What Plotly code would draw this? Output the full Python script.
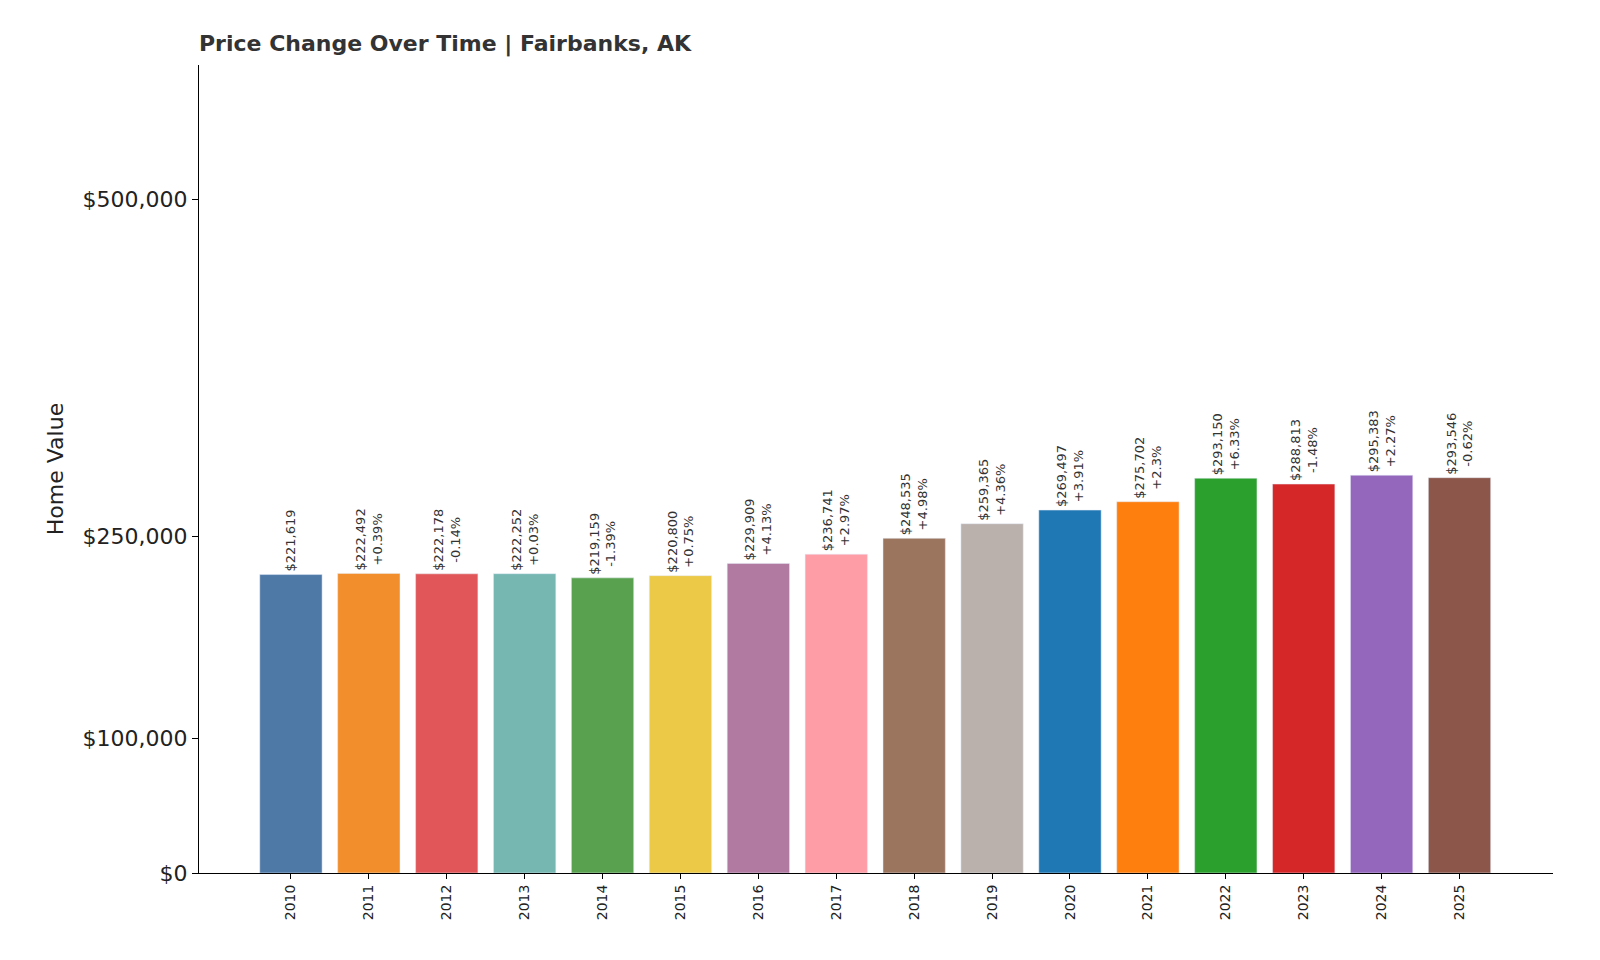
import plotly.graph_objects as go

years = [str(y) for y in range(2010, 2026)]
values = [221619, 222492, 222178, 222252, 219159, 220800, 229909, 236741,
          248535, 259365, 269497, 275702, 293150, 288813, 295383, 293546]
changes = ["", "+0.39%", "-0.14%", "+0.03%", "-1.39%", "+0.75%", "+4.13%", "+2.97%",
           "+4.98%", "+4.36%", "+3.91%", "+2.3%", "+6.33%", "-1.48%", "+2.27%", "-0.62%"]
colors = ["#4e79a7", "#f28e2b", "#e15759", "#76b7b2", "#59a14f", "#edc948", "#b07aa1",
          "#ff9da7", "#9c755f", "#bab0ac", "#1f77b4", "#ff7f0e", "#2ca02c", "#d62728",
          "#9467bd", "#8c564b"]
tick_vals = [0, 100000, 250000, 500000]
tick_text = ["$0", "$100,000", "$250,000", "$500,000"]

labels = [f"${v:,}" + (f"<br>{c}" if c else "") for v, c in zip(values, changes)]

fig = go.Figure(go.Bar(
    x=years, y=values, marker_color=colors, width=0.8,
    text=labels, textposition="outside", textangle=-90,
    textfont=dict(size=13, color="#333"), cliponaxis=False,
))

fig.update_layout(
    width=1600, height=960,
    margin=dict(l=191, r=55, t=57, b=95),
    plot_bgcolor="white", paper_bgcolor="white",
    font=dict(family="DejaVu Sans", color="#222"),
    title=dict(text="<b>Price Change Over Time | Fairbanks, AK</b>",
               x=191/1600, xanchor="left", y=1-35/960, yanchor="middle",
               font=dict(size=22, color="#333")),
    showlegend=False,
    uniformtext=dict(minsize=13, mode="show"),
)
fig.update_xaxes(range=[-1.18, 16.2], tickangle=-90, tickfont=dict(size=14),
                 showline=True, linecolor="black", ticks="outside", ticklen=5,
                 tickcolor="black", showgrid=False)
fig.update_yaxes(range=[0, 600000], tickvals=tick_vals, ticktext=tick_text,
                 tickfont=dict(size=22), showline=True, linecolor="black",
                 ticks="outside", ticklen=6, tickcolor="black", showgrid=False,
                 zeroline=False,
                 title=dict(text="Home Value", font=dict(size=22), standoff=12))

fig.write_html("out.html")
